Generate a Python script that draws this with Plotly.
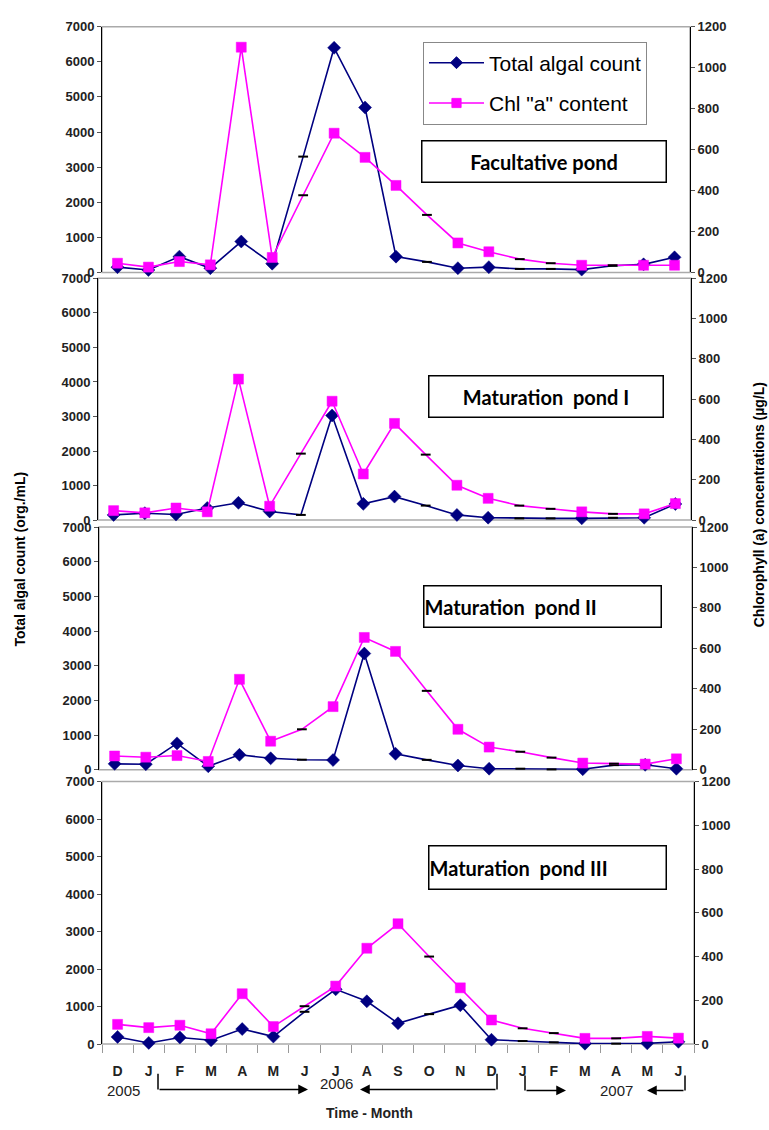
import plotly.graph_objects as go

# ---------------- data ----------------
months = ["D", "J", "F", "M", "A", "M", "J", "J", "A", "S", "O", "N", "D",
          "J", "F", "M", "A", "M", "J"]
pond_names = ["Facultative pond", "Maturation  pond I",
              "Maturation  pond II", "Maturation  pond III"]
# months plotted with small dash markers instead of full symbols
dash_points = [6, 10, 13, 14, 16]

algal_fac = [150, 70, 450, 120, 880, 250, 3300, 6400, 4700, 450, 300, 120, 150,
             100, 100, 80, 190, 230, 430]
chl_fac = [45, 26, 53, 37, 1100, 73, 377, 680, 562, 425, 281, 144, 101,
           65, 45, 35, 35, 35, 35]

algal_m1 = [150, 200, 160, 350, 500, 250, 150, 3030, 470, 680, 420, 150, 70,
            50, 50, 50, 67, 67, 466]
chl_m1 = [47, 36, 60, 41, 700, 69, 330, 590, 229, 480, 325, 173, 108,
          72, 56, 41, 31, 31, 82]

algal_m2 = [170, 160, 760, 100, 430, 330, 290, 280, 3350, 460, 285, 123, 30,
            30, 10, 15, 133, 142, 28]
chl_m2 = [68, 62, 70, 41, 447, 141, 200, 312, 654, 585, 390, 200, 112,
          89, 60, 33, 30, 28, 54]

algal_m3 = [190, 30, 175, 100, 400, 200, 860, 1460, 1140, 553, 798, 1035, 114,
            80, 45, 10, 10, 18, 60]
chl_m3 = [90, 75, 86, 47, 230, 80, 173, 265, 438, 550, 400, 257, 110,
          72, 50, 26, 26, 35, 27]

algal_series = [algal_fac, algal_m1, algal_m2, algal_m3]
chl_series = [chl_fac, chl_m1, chl_m2, chl_m3]

year_labels = ["2005", "2006", "2007"]
left_ticks = [0, 1000, 2000, 3000, 4000, 5000, 6000, 7000]
right_ticks = [0, 200, 400, 600, 800, 1000, 1200]

# ---------------- layout helpers ----------------
W, H = 769, 1130


def px(x):
    return x / W


def py(y):
    return 1 - y / H


panels = [
    dict(x0=102, x1=690, y0=20, y1=269),
    dict(x0=98, x1=691, y0=275, y1=520),
    dict(x0=99, x1=692, y0=527, y1=773),
    dict(x0=102, x1=694, y0=785, y1=1051),
]

BLUE = "#000080"
PINK = "#FF00FF"
TICKFONT = dict(family="Liberation Sans, Arial, sans-serif", size=13, color="#222", weight="bold")
n = len(months)
xs = list(range(n))


def marker_spec(color, symbol, size):
    return dict(
        symbol=[("line-ew" if i in dash_points else symbol) for i in range(n)],
        size=[7 if i in dash_points else size for i in range(n)],
        color=color, opacity=1,
        line=dict(color=["black" if i in dash_points else color for i in range(n)],
                  width=[2 if i in dash_points else 0.5 for i in range(n)]),
    )


fig = go.Figure()
layout = {}
shapes = []
annotations = []

for k, p in enumerate(panels):
    xa = "x" if k == 0 else f"x{k + 1}"
    yl = f"y{2 * k + 1}" if k > 0 else "y"
    yr = f"y{2 * k + 2}"
    fig.add_trace(go.Scatter(
        x=xs, y=algal_series[k], mode="lines+markers", name="Total algal count",
        xaxis=xa, yaxis=yl, line=dict(color=BLUE, width=1.6),
        marker=marker_spec(BLUE, "diamond", 10), showlegend=(k == 0),
        legendgroup="a", cliponaxis=False))
    fig.add_trace(go.Scatter(
        x=xs, y=chl_series[k], mode="lines+markers", name='Chl "a" content',
        xaxis=xa, yaxis=yr, line=dict(color=PINK, width=1.6),
        marker=marker_spec(PINK, "square", 10), showlegend=(k == 0),
        legendgroup="b", cliponaxis=False))

    xkey = "xaxis" if k == 0 else f"xaxis{k + 1}"
    ylkey = "yaxis" if k == 0 else f"yaxis{2 * k + 1}"
    yrkey = f"yaxis{2 * k + 2}"
    bottom = (k == len(panels) - 1)
    xax = dict(domain=[px(p["x0"]), px(p["x1"])], anchor=yl, range=[-0.5, n - 0.5],
               showgrid=False, zeroline=False, showline=False, fixedrange=True)
    if bottom:
        xax.update(tickmode="array", tickvals=xs, ticktext=months, ticks="",
                   tickfont=dict(family="Liberation Sans, Arial, sans-serif", size=14,
                                 color="#222", weight="bold"),
                   ticklabelstandoff=17,
                   minor=dict(tickmode="linear", tick0=-0.5, dtick=1, ticks="outside",
                              ticklen=8, tickcolor="#999", tickwidth=1, showgrid=False))
    else:
        xax.update(showticklabels=False, ticks="")
    layout[xkey] = xax
    layout[ylkey] = dict(domain=[py(p["y1"]), py(p["y0"])], anchor=xa, range=[0, 7000],
                         tickmode="array", tickvals=left_ticks, showgrid=False,
                         zeroline=False, showline=True, linecolor="black", linewidth=1,
                         ticks="outside", ticklen=4, tickcolor="#555",
                         tickfont=TICKFONT, fixedrange=True)
    layout[yrkey] = dict(overlaying=yl, side="right", anchor=xa, range=[0, 1200],
                         tickmode="array", tickvals=right_ticks, showgrid=False,
                         zeroline=False, showline=True, linecolor="black", linewidth=1,
                         ticks="outside", ticklen=4, tickcolor="#555",
                         tickfont=TICKFONT, fixedrange=True)
    shapes.append(dict(type="rect", xref="paper", yref="paper", layer="below",
                       x0=px(p["x0"]), x1=px(p["x1"]), y0=py(p["y1"]), y1=py(p["y0"]),
                       line=dict(color="#aaaaaa", width=1.5)))

# pond label boxes
boxes = [
    dict(x0=419, x1=668, y0=135, y1=178, align="center", size=20),
    dict(x0=426, x1=665, y0=373, y1=416, align="center", size=20),
    dict(x0=421, x1=663, y0=586, y1=629, align="left", size=20),
    dict(x0=426, x1=668, y0=850, y1=895, align="left", size=20),
]
for name, b in zip(pond_names, boxes):
    annotations.append(dict(
        xref="paper", yref="paper", x=px((b["x0"] + b["x1"]) / 2),
        y=py((b["y0"] + b["y1"]) / 2), xanchor="center", yanchor="middle",
        text=name, showarrow=False, align=b["align"],
        width=b["x1"] - b["x0"] - 6, height=b["y1"] - b["y0"] - 3,
        bordercolor="black", borderwidth=1.5, borderpad=0, bgcolor="white",
        font=dict(family="Lato, Noto Sans, sans-serif", size=b["size"], color="black",
                  weight="bold")))

# axis titles
annotations.append(dict(xref="paper", yref="paper", x=px(20), y=py(560), text="Total algal count (org./mL)",
                        textangle=-90, showarrow=False, xanchor="center", yanchor="middle",
                        font=dict(family="Liberation Sans, Arial, sans-serif", size=14,
                                  color="black", weight="bold")))
annotations.append(dict(xref="paper", yref="paper", x=px(759), y=py(505),
                        text="Chlorophyll (a) concentrations (µg/L)",
                        textangle=-90, showarrow=False, xanchor="center", yanchor="middle",
                        font=dict(family="Liberation Sans, Arial, sans-serif", size=14,
                                  color="black", weight="bold")))
annotations.append(dict(xref="paper", yref="paper", x=px(369), y=py(1121), text="Time - Month",
                        showarrow=False, xanchor="center", yanchor="middle",
                        font=dict(family="Liberation Sans, Arial, sans-serif", size=14,
                                  color="#222", weight="bold")))

# year labels
year_pos = [(123, 1098), (336, 1091), (616, 1098)]
for t, (x, y) in zip(year_labels, year_pos):
    annotations.append(dict(xref="paper", yref="paper", x=px(x), y=py(y), text=t,
                            showarrow=False, xanchor="center", yanchor="middle",
                            font=dict(family="Liberation Sans, Arial, sans-serif", size=15,
                                      color="#222")))

# year-span brackets with arrows
brackets = [
    (158, 1081, 1097, 308),
    (497, 1081, 1097, 360),
    (525, 1083, 1098, 566),
    (685, 1083, 1098, 647),
]
for xv, ytop, ybot, xtip in brackets:
    shapes.append(dict(type="line", xref="paper", yref="paper", x0=px(xv), x1=px(xv),
                       y0=py(ytop), y1=py(ybot), line=dict(color="black", width=1.5)))
    annotations.append(dict(xref="paper", yref="paper", x=px(xtip), y=py(ybot), text="",
                            showarrow=True, ax=xv - xtip, ay=0, arrowhead=2, arrowsize=1.3,
                            arrowwidth=1.5, arrowcolor="black", standoff=0))

fig.update_layout(
    **layout,
    width=W, height=H, margin=dict(l=0, r=0, t=0, b=0),
    paper_bgcolor="white", plot_bgcolor="rgba(0,0,0,0)",
    shapes=shapes, annotations=annotations,
    showlegend=True,
    legend=dict(x=px(423), y=py(35), xanchor="left", yanchor="top",
                bordercolor="#888", borderwidth=1, bgcolor="white",
                font=dict(family="Liberation Sans, Arial, sans-serif", size=21, color="black"),
                tracegroupgap=10, itemwidth=55),
)

fig.write_html("out.html", config={"displayModeBar": False},
               post_script="document.body.style.margin='0';")
